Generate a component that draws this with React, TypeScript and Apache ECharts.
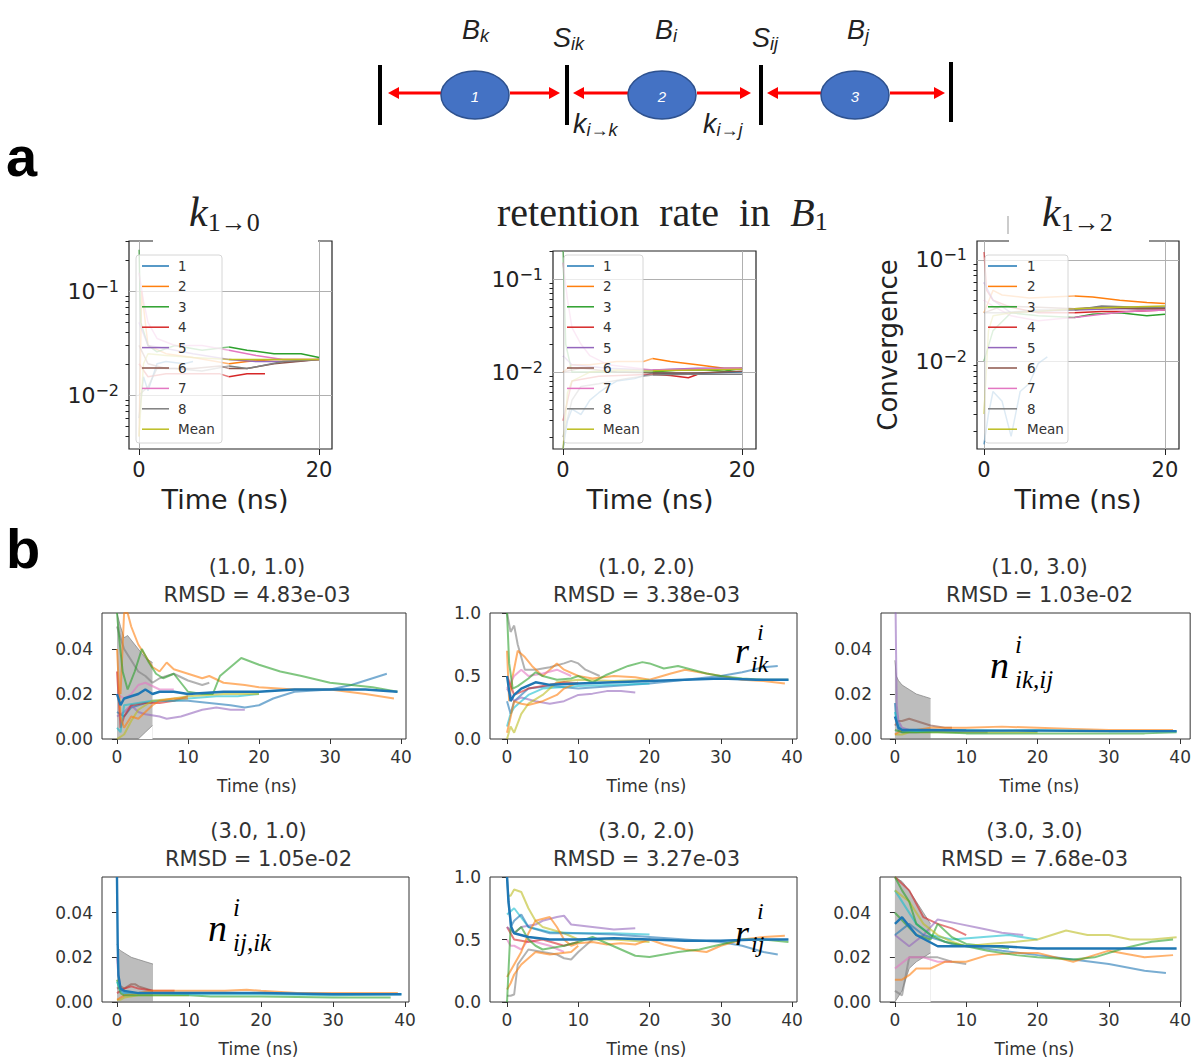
import React, { useEffect, useRef } from "react";
import * as echarts from "echarts";

// ---------------- colours (matplotlib tab10) ----------------
const C = {
  blue: "#1f77b4", orange: "#ff7f0e", green: "#2ca02c", red: "#d62728", purple: "#9467bd",
  brown: "#8c564b", pink: "#e377c2", gray: "#7f7f7f", olive: "#bcbd22", cyan: "#17becf",
};

// ---------------- panel a data ----------------
const A_NAMES = ["1", "2", "3", "4", "5", "6", "7", "8", "Mean"];
const A_COLORS = [C.blue, C.orange, C.green, C.red, C.purple, C.brown, C.pink, C.gray, C.olive];
const A_X_TICKS = [0, 20];
const A_Y_TICKS = [0.01, 0.1];
const A_SPLIT = 10; // runs are drawn faded before 10 ns

// k 1->0
const a1_s1 = [[0, 0.006], [0.5, 0.015], [1, 0.011], [2, 0.02], [3, 0.021], [5, 0.02], [6, 0.021]];
const a1_s2 = [[0, 0.004], [0.3, 0.1], [1, 0.03], [3, 0.025], [6, 0.023], [10, 0.02], [12, 0.021], [15, 0.022], [18, 0.022], [20, 0.022]];
const a1_s3 = [[0, 0.25], [0.2, 0.05], [1, 0.03], [2, 0.026], [4, 0.03], [7, 0.027], [10, 0.029], [12, 0.027], [15, 0.025], [18, 0.025], [20, 0.023]];
const a1_s4 = [[0, 0.02], [1, 0.015], [3, 0.016], [6, 0.016], [9, 0.016], [10, 0.015], [12, 0.016], [14, 0.016]];
const a1_s5 = [[0, 0.05], [1, 0.03], [3, 0.028], [6, 0.025], [10, 0.022], [13, 0.021], [17, 0.021], [20, 0.022]];
const a1_s6 = [[0, 0.03], [1, 0.02], [3, 0.018], [6, 0.018], [9, 0.019], [10, 0.018], [12, 0.018], [15, 0.02], [20, 0.022]];
const a1_s7 = [[0, 0.15], [0.5, 0.08], [1, 0.05], [2, 0.035], [4, 0.03], [7, 0.03], [10, 0.027], [13, 0.024], [16, 0.022], [20, 0.022]];
const a1_s8 = [[0, 0.01], [1, 0.012], [2, 0.018], [4, 0.018], [7, 0.017], [10, 0.019], [12, 0.018], [16, 0.021], [20, 0.022]];
const a1_mean = [[0, 0.004], [0.5, 0.02], [1, 0.025], [3, 0.024], [6, 0.023], [10, 0.022], [15, 0.022], [20, 0.022]];

// retention rate in B1
const a2_s1 = [[0, 0.0015], [0.5, 0.003], [1, 0.004], [2, 0.0035], [3, 0.005], [4, 0.006], [5, 0.007], [6, 0.008], [8, 0.0085], [10, 0.0098], [14, 0.0096], [20, 0.0101]];
const a2_s2 = [[0, 0.01], [1, 0.012], [3, 0.012], [6, 0.013], [9, 0.013], [10, 0.014], [12, 0.013], [15, 0.012], [18, 0.011], [20, 0.011]];
const a2_s3 = [[0, 0.2], [0.3, 0.02], [1, 0.01], [4, 0.01], [10, 0.01], [13, 0.0105], [16, 0.0105], [18, 0.0102], [20, 0.011]];
const a2_s4 = [[0, 0.003], [1, 0.008], [4, 0.009], [10, 0.0095], [12, 0.0092], [14, 0.0087], [15, 0.0094]];
const a2_s5 = [[0, 0.015], [1, 0.012], [5, 0.011], [10, 0.0105], [15, 0.011], [20, 0.011]];
const a2_s6 = [[0, 0.01], [2, 0.011], [6, 0.01], [10, 0.0098], [15, 0.0098], [20, 0.0102]];
const a2_s7 = [[0, 0.15], [0.5, 0.06], [1, 0.03], [2, 0.02], [3, 0.015], [5, 0.012], [10, 0.0105], [15, 0.0108], [20, 0.011]];
const a2_s8 = [[0, 0.002], [1, 0.005], [2, 0.007], [4, 0.0075], [7, 0.0085], [10, 0.0093], [14, 0.0095], [20, 0.0095]];
const a2_mean = [[0, 0.0015], [0.5, 0.006], [1, 0.008], [3, 0.01], [6, 0.0105], [10, 0.0103], [15, 0.0105], [20, 0.0107]];

// k 1->2
const a3_s1 = [[0, 0.0015], [0.5, 0.003], [1, 0.005], [2, 0.004], [3, 0.0018], [4, 0.005], [5, 0.006], [6, 0.0095], [7, 0.011]];
const a3_s2 = [[0, 0.03], [1, 0.05], [2, 0.045], [5, 0.042], [10, 0.044], [12, 0.043], [15, 0.04], [18, 0.038], [20, 0.037]];
const a3_s3 = [[0, 0.01], [1, 0.02], [3, 0.03], [6, 0.028], [10, 0.027], [12, 0.029], [15, 0.03], [18, 0.028], [20, 0.029]];
const a3_s4 = [[0, 0.12], [0.3, 0.05], [1, 0.04], [3, 0.034], [6, 0.03], [10, 0.03], [13, 0.031], [16, 0.031], [20, 0.032]];
const a3_s5 = [[0, 0.06], [1, 0.04], [3, 0.03], [6, 0.031], [10, 0.032], [15, 0.033], [20, 0.033]];
const a3_s6 = [[0, 0.03], [2, 0.035], [6, 0.034], [10, 0.033], [13, 0.034], [17, 0.033], [20, 0.033]];
const a3_s7 = [[0, 0.04], [1, 0.035], [3, 0.028], [6, 0.025], [8, 0.026], [10, 0.027], [13, 0.029], [16, 0.031], [20, 0.032]];
const a3_s8 = [[0, 0.03], [2, 0.03], [6, 0.032], [10, 0.032], [13, 0.035], [17, 0.034], [20, 0.034]];
const a3_mean = [[0, 0.003], [0.5, 0.02], [1, 0.028], [3, 0.03], [6, 0.031], [10, 0.033], [15, 0.034], [20, 0.035]];

const A1 = [a1_s1, a1_s2, a1_s3, a1_s4, a1_s5, a1_s6, a1_s7, a1_s8, a1_mean];
const A2 = [a2_s1, a2_s2, a2_s3, a2_s4, a2_s5, a2_s6, a2_s7, a2_s8, a2_mean];
const A3 = [a3_s1, a3_s2, a3_s3, a3_s4, a3_s5, a3_s6, a3_s7, a3_s8, a3_mean];

// ---------------- panel b data ----------------
const B_X_TICKS = [0, 10, 20, 30, 40];
const B_Y_TICKS_N = [0, 0.02, 0.04];
const B_Y_TICKS_R = [0, 0.5, 1.0];

// (1.0, 1.0)
const b11_green = [[0, 0.056], [0.3, 0.045], [0.8, 0.03], [1.5, 0.022], [2.5, 0.03], [3.5, 0.04], [4.5, 0.034], [5.5, 0.029], [6.5, 0.027], [8, 0.029], [10, 0.021], [12, 0.02], [13.5, 0.02], [14.5, 0.028], [16, 0.032], [17.5, 0.036], [20, 0.033], [23, 0.03], [26, 0.028], [30, 0.025], [33, 0.024], [36, 0.023], [39.5, 0.021]];
const b11_orange = [[0.5, 0.02], [1, 0.056], [1.5, 0.056], [2, 0.05], [3, 0.042], [4, 0.037], [5, 0.032], [6, 0.03], [7, 0.034], [8, 0.031], [10, 0.029], [12, 0.027], [13, 0.028], [15, 0.025], [18, 0.024], [20, 0.023], [25, 0.022], [30, 0.022], [35, 0.02], [39, 0.018]];
const b11_gray = [[0, 0.05], [1, 0.04], [2, 0.035], [3, 0.03], [4, 0.028], [5, 0.025], [6, 0.027], [8, 0.029], [10, 0.026], [12, 0.024], [13, 0.025]];
const b11_lblue = [[0, 0.012], [1, 0.01], [2, 0.014], [4, 0.016], [6, 0.017], [10, 0.017], [13, 0.016], [16, 0.015], [18, 0.014], [20, 0.015], [22, 0.018], [25, 0.021], [30, 0.022], [33, 0.024], [36, 0.027], [38, 0.029]];
const b11_purple = [[0, 0.01], [1, 0.012], [2, 0.015], [3, 0.012], [4, 0.011], [6, 0.01], [7, 0.009], [9, 0.01], [10, 0.011], [12, 0.013], [14, 0.014], [16, 0.013], [18, 0.013]];
const b11_red = [[0, 0.03], [0.5, 0.005], [1, 0.01], [2, 0.015], [4, 0.016], [6, 0.016], [8, 0.017], [10, 0.019]];
const b11_cyan = [[0, 0.005], [0.5, 0.003], [1, 0.015], [3, 0.016], [5, 0.017], [8, 0.017], [10, 0.018], [14, 0.019], [17, 0.019], [20, 0.02]];
const b11_olive = [[0, 0.0], [1, 0.002], [2, 0.008], [3, 0.013], [5, 0.017], [8, 0.018], [10, 0.019], [15, 0.02], [20, 0.02]];
const b11_pink = [[0, 0.02], [1, 0.018], [2, 0.02], [3, 0.024], [4, 0.025], [6, 0.022], [8, 0.022]];
const b11_orange2 = [[0, 0.04], [0.5, 0.01], [1, 0.005], [2, 0.01], [3, 0.009], [4, 0.012], [5, 0.015], [6, 0.017], [8, 0.018], [10, 0.018]];
const b11_main = [[0, 0.02], [0.5, 0.015], [1, 0.018], [2, 0.019], [3, 0.02], [4, 0.022], [5, 0.02], [6, 0.021], [8, 0.021], [10, 0.02], [15, 0.021], [20, 0.021], [25, 0.022], [30, 0.022], [35, 0.022], [39.5, 0.021]];
const b11_band_x = [0, 0.5, 1, 1.5, 2, 3, 4, 5];
const b11_band_lo = [0, 0, 0, 0, 0, 0, 0.003, 0.006];
const b11_band_hi = [0.056, 0.05, 0.045, 0.046, 0.044, 0.04, 0.036, 0.034];

// (1.0, 2.0)
const b12_green = [[0, 1], [0.3, 0.6], [0.8, 0.4], [1.5, 0.42], [3, 0.48], [4, 0.53], [5, 0.5], [7, 0.47], [9, 0.48], [10, 0.5], [12, 0.45], [14, 0.51], [17, 0.58], [19, 0.61], [20, 0.6], [22, 0.56], [24, 0.58], [26, 0.55], [28, 0.52], [30, 0.5], [33, 0.48], [36, 0.47], [39.5, 0.47]];
const b12_orange = [[0, 0.7], [0.3, 0.3], [0.8, 0.5], [1.5, 0.7], [2.5, 0.65], [3.5, 0.58], [5, 0.5], [6, 0.55], [7, 0.6], [8, 0.55], [10, 0.5], [12, 0.48], [15, 0.5], [18, 0.49], [20, 0.47], [23, 0.52], [25, 0.55], [28, 0.52], [30, 0.5], [33, 0.47], [36, 0.46], [39, 0.44]];
const b12_gray = [[0, 1], [0.5, 0.85], [1, 0.9], [1.5, 0.75], [2.5, 0.55], [4, 0.55], [6, 0.57], [8, 0.6], [9, 0.62], [10, 0.6], [11, 0.55], [13, 0.5]];
const b12_lblue = [[0, 0.3], [0.5, 0.2], [1, 0.3], [3, 0.4], [6, 0.42], [10, 0.4], [15, 0.42], [20, 0.44], [25, 0.47], [30, 0.5], [33, 0.53], [36, 0.57], [38, 0.58]];
const b12_purple = [[0, 0.4], [1, 0.3], [2, 0.33], [4, 0.3], [6, 0.28], [8, 0.3], [10, 0.35], [12, 0.36], [14, 0.38], [16, 0.38], [18, 0.37]];
const b12_cyan = [[0, 0.1], [0.5, 0.2], [1, 0.25], [3, 0.35], [5, 0.4], [10, 0.42], [15, 0.43], [20, 0.44]];
const b12_olive = [[0, 0], [0.5, 0.1], [1, 0.05], [2, 0.2], [3, 0.28], [5, 0.35], [7, 0.45], [10, 0.47], [15, 0.46], [20, 0.47]];
const b12_pink = [[0, 0.4], [1, 0.5], [2, 0.55], [3, 0.5], [5, 0.52], [7, 0.55], [9, 0.5]];
const b12_red = [[0, 0.5], [1, 0.35], [3, 0.4], [5, 0.42], [8, 0.45], [10, 0.44]];
const b12_orange2 = [[0, 0.05], [1, 0.3], [2, 0.28], [3, 0.27], [5, 0.3], [7, 0.35], [8, 0.4], [10, 0.45]];
const b12_main = [[0, 0.5], [0.5, 0.3], [1, 0.35], [2, 0.4], [4, 0.45], [6, 0.43], [10, 0.44], [15, 0.45], [20, 0.46], [25, 0.47], [30, 0.48], [35, 0.47], [39.5, 0.47]];

// (1.0, 3.0)
const b13_purple = [[0, 0.056], [0.1, 0.056], [0.25, 0.015], [0.5, 0.008], [1, 0.005], [2, 0.004], [4, 0.004], [6, 0.004], [8, 0.004]];
const b13_orange = [[0, 0.002], [0.5, 0.003], [1, 0.004], [3, 0.004], [5, 0.005], [10, 0.005], [15, 0.0055], [20, 0.005], [25, 0.0045], [30, 0.004], [35, 0.004], [39, 0.004]];
const b13_lgreen = [[0, 0.004], [1, 0.003], [3, 0.003], [6, 0.003], [10, 0.0025], [15, 0.0025], [20, 0.0025], [25, 0.0025], [30, 0.0025], [35, 0.0025], [39.5, 0.003]];
const b13_green = [[0, 0.012], [0.3, 0.008], [0.7, 0.005], [1, 0.004], [3, 0.0035], [6, 0.004], [10, 0.004], [15, 0.0038], [20, 0.004], [30, 0.0035], [39.5, 0.0035]];
const b13_brown = [[0, 0.006], [0.5, 0.008], [1, 0.008], [2, 0.009], [3, 0.008], [4, 0.007], [5, 0.006], [7, 0.005], [8, 0.005]];
const b13_blue = [[0, 0.016], [0.2, 0.008], [0.5, 0.004], [1, 0.003], [3, 0.003], [6, 0.0035], [10, 0.003], [13, 0.003]];
const b13_olive = [[0, 0.002], [1, 0.002], [2, 0.003], [5, 0.003], [10, 0.003], [20, 0.003]];
const b13_main = [[0, 0.01], [0.5, 0.005], [1, 0.004], [5, 0.004], [10, 0.0038], [20, 0.0037], [30, 0.0035], [39.5, 0.0035]];
const b13_band_x = [0, 0.2, 0.5, 1, 2, 3, 4, 5];
const b13_band_lo = [0, 0, 0, 0, 0, 0, 0, 0];
const b13_band_hi = [0.035, 0.028, 0.026, 0.024, 0.022, 0.02, 0.019, 0.018];

// (3.0, 1.0)
const b21_purple = [[0, 0.02], [0.2, 0.012], [0.5, 0.006], [1, 0.004], [3, 0.004], [5, 0.004]];
const b21_orange = [[0, 0.001], [0.5, 0.002], [1, 0.003], [3, 0.004], [5, 0.005], [10, 0.005], [15, 0.005], [18, 0.0055], [20, 0.005], [25, 0.004], [30, 0.004], [39, 0.004]];
const b21_lgreen = [[0, 0.01], [0.5, 0.004], [1, 0.003], [5, 0.003], [10, 0.003], [13, 0.0025], [20, 0.0025], [30, 0.002], [38, 0.002]];
const b21_green = [[0, 0.009], [0.5, 0.005], [1, 0.004], [5, 0.004], [10, 0.0035], [20, 0.0035], [30, 0.003], [39.5, 0.0035]];
const b21_brown = [[0, 0.006], [0.5, 0.007], [1, 0.006], [2, 0.008], [2.5, 0.008], [3, 0.007], [4, 0.006], [5, 0.005]];
const b21_red = [[0, 0.004], [1, 0.006], [2, 0.007], [3, 0.006], [5, 0.005], [8, 0.005]];
const b21_olive = [[0, 0.001], [0.5, 0.001], [1, 0.002], [3, 0.003], [6, 0.003], [10, 0.003]];
const b21_main = [[0, 0.056], [0.05, 0.056], [0.1, 0.026], [0.2, 0.012], [0.5, 0.006], [1, 0.005], [3, 0.004], [6, 0.004], [10, 0.004], [20, 0.004], [30, 0.0035], [39.5, 0.0035]];
const b21_band_x = [0, 0.2, 0.5, 1, 2, 3, 4, 5];
const b21_band_lo = [0, 0, 0, 0, 0, 0, 0, 0];
const b21_band_hi = [0.026, 0.024, 0.023, 0.022, 0.02, 0.019, 0.018, 0.017];

// (3.0, 2.0)
const b22_green = [[0, 0], [0.5, 0.6], [1, 0.55], [2, 0.6], [3, 0.5], [4, 0.45], [5, 0.42], [6, 0.43], [8, 0.45], [10, 0.48], [12, 0.52], [14, 0.47], [16, 0.42], [18, 0.37], [20, 0.36], [22, 0.38], [24, 0.4], [27, 0.42], [30, 0.46], [33, 0.5], [36, 0.5], [39.5, 0.48]];
const b22_orange = [[0, 0.2], [0.5, 0.25], [1, 0.3], [2, 0.4], [3, 0.55], [4, 0.65], [6, 0.68], [7, 0.6], [8, 0.5], [9, 0.45], [10, 0.47], [12, 0.48], [14, 0.46], [16, 0.47], [18, 0.46], [20, 0.5], [22, 0.46], [25, 0.42], [28, 0.4], [30, 0.45], [33, 0.5], [36, 0.52], [39, 0.53]];
const b22_lblue = [[0, 1], [0.5, 0.6], [1, 0.65], [2, 0.7], [3, 0.6], [6, 0.55], [10, 0.55], [15, 0.54], [20, 0.52], [25, 0.5], [30, 0.48], [33, 0.45], [36, 0.4], [38, 0.38]];
const b22_olive = [[0, 0.85], [0.5, 0.85], [1, 0.9], [2, 0.88], [3, 0.75], [4, 0.65], [5, 0.6], [8, 0.55], [10, 0.5], [15, 0.5], [20, 0.48]];
const b22_purple = [[0, 0.6], [1, 0.55], [2, 0.6], [4, 0.62], [5, 0.65], [7, 0.68], [8, 0.69], [9, 0.62], [12, 0.6], [15, 0.58], [18, 0.59]];
const b22_gray = [[0, 0.05], [0.5, 0.05], [1, 0.06], [1.5, 0.3], [3, 0.42], [5, 0.4], [7, 0.38], [8, 0.35], [9, 0.34], [10, 0.4], [12, 0.5]];
const b22_pink = [[0, 0.5], [0.5, 0.45], [1, 0.45], [2, 0.42], [3, 0.5], [4, 0.48], [6, 0.45], [8, 0.4]];
const b22_cyan = [[0, 0.7], [1, 0.75], [3, 0.6], [6, 0.56], [10, 0.55], [15, 0.55], [20, 0.54]];
const b22_red = [[0, 0.6], [1, 0.5], [3, 0.48], [5, 0.5], [8, 0.45], [10, 0.48]];
const b22_orange2 = [[0, 0.1], [0.5, 0.15], [1, 0.22], [2, 0.3], [4, 0.4], [6, 0.38], [9, 0.4], [10, 0.45]];
const b22_main = [[0, 1], [0.2, 0.8], [0.6, 0.6], [1, 0.55], [3, 0.52], [6, 0.5], [10, 0.5], [15, 0.51], [20, 0.5], [25, 0.49], [30, 0.49], [35, 0.5], [39.5, 0.5]];

// (3.0, 3.0)
const b23_olive = [[0, 0.05], [2, 0.045], [4, 0.035], [6, 0.03], [8, 0.027], [10, 0.025], [13, 0.026], [17, 0.027], [20, 0.028], [24, 0.032], [27, 0.03], [30, 0.03], [33, 0.028], [36, 0.028], [39.5, 0.029]];
const b23_green = [[0, 0.056], [1, 0.05], [2, 0.045], [3, 0.035], [5, 0.03], [7, 0.027], [10, 0.025], [13, 0.023], [17, 0.021], [20, 0.02], [25, 0.019], [28, 0.02], [32, 0.024], [36, 0.027], [39, 0.028]];
const b23_green2 = [[0, 0.04], [3, 0.03], [5, 0.028], [6, 0.035], [8, 0.029], [10, 0.026], [13, 0.025], [16, 0.024]];
const b23_lblue = [[0, 0.03], [2, 0.035], [4, 0.03], [8, 0.026], [15, 0.023], [20, 0.021], [25, 0.019], [30, 0.017], [35, 0.014], [38, 0.013]];
const b23_orange = [[0, 0.01], [1, 0.01], [2, 0.012], [3, 0.015], [5, 0.015], [7, 0.018], [10, 0.018], [13, 0.021], [17, 0.022], [20, 0.022], [25, 0.018], [30, 0.023], [35, 0.02], [39, 0.021]];
const b23_purple = [[0, 0.03], [2, 0.025], [4, 0.03], [6, 0.037], [9, 0.035], [12, 0.033], [15, 0.031], [18, 0.03]];
const b23_red = [[0, 0.056], [2, 0.05], [4, 0.038], [6, 0.035], [8, 0.033], [10, 0.03]];
const b23_cyan = [[0, 0.05], [3, 0.035], [5, 0.03], [8, 0.028], [12, 0.029], [16, 0.03], [20, 0.028]];
const b23_gray = [[0, 0.005], [1, 0.003], [2, 0.02], [4, 0.02], [6, 0.02], [8, 0.018], [10, 0.017]];
const b23_pink = [[0, 0.015], [2, 0.02], [4, 0.02], [6, 0.018], [8, 0.018]];
const b23_main = [[0, 0.035], [1, 0.038], [3, 0.03], [6, 0.025], [10, 0.025], [15, 0.025], [20, 0.024], [30, 0.024], [39.5, 0.024]];
const b23_band_x = [0, 1, 2, 3, 4, 5];
const b23_band_lo = [0, 0.005, 0.015, 0.018, 0.02, 0.022];
const b23_band_hi = [0.056, 0.054, 0.05, 0.045, 0.04, 0.035];

// ---------------- layout ----------------
const SERIF = "'Liberation Serif', 'DejaVu Serif', serif";
const SANS = "'DejaVu Sans', sans-serif";
const DIAG = "'Liberation Sans', 'DejaVu Sans', sans-serif";

const A_PLOTS = [
  { data: A1, grid: { left: 129, top: 241, width: 203, height: 208 }, x: [-1.11, 21.44], y: [0.00303, 0.303] },
  { data: A2, grid: { left: 553, top: 251, width: 203, height: 198 }, x: [-1.12, 21.56], y: [0.00149, 0.2] },
  { data: A3, grid: { left: 977, top: 241, width: 202, height: 208 }, x: [-0.77, 21.55], y: [0.00135, 0.154] },
];

const B_PLOTS = [
  {
    title: ["(1.0, 1.0)", "RMSD = 4.83e-03"], grid: { left: 102, top: 613, width: 304, height: 126 }, x: [-2.11, 40.7], yMax: 0.056, yTicks: B_Y_TICKS_N, dec: 2,
    lines: [b11_gray, b11_orange, b11_lblue, b11_purple, b11_red, b11_cyan, b11_olive, b11_pink, b11_orange2, b11_green],
    colors: [C.gray, C.orange, C.blue, C.purple, C.red, C.cyan, C.olive, C.pink, C.orange, C.green],
    main: b11_main, band: [b11_band_x, b11_band_lo, b11_band_hi],
  },
  {
    title: ["(1.0, 2.0)", "RMSD = 3.38e-03"], grid: { left: 490, top: 613, width: 307, height: 126 }, x: [-2.39, 40.7], yMax: 1.0, yTicks: B_Y_TICKS_R, dec: 1,
    lines: [b12_gray, b12_orange, b12_lblue, b12_purple, b12_cyan, b12_olive, b12_pink, b12_red, b12_orange2, b12_green],
    colors: [C.gray, C.orange, C.blue, C.purple, C.cyan, C.olive, C.pink, C.red, C.orange, C.green],
    main: b12_main, band: null,
  },
  {
    title: ["(1.0, 3.0)", "RMSD = 1.03e-02"], grid: { left: 881, top: 613, width: 311, height: 126 }, x: [-1.95, 41.4], yMax: 0.056, yTicks: B_Y_TICKS_N, dec: 2,
    lines: [b13_brown, b13_blue, b13_olive, b13_orange, b13_lgreen, b13_green, b13_purple],
    colors: [C.brown, C.blue, C.olive, C.orange, C.green, C.cyan, C.purple],
    main: b13_main, band: [b13_band_x, b13_band_lo, b13_band_hi],
  },
  {
    title: ["(3.0, 1.0)", "RMSD = 1.05e-02"], grid: { left: 102, top: 877, width: 307, height: 125 }, x: [-2.08, 40.55], yMax: 0.056, yTicks: B_Y_TICKS_N, dec: 2,
    lines: [b21_purple, b21_brown, b21_red, b21_olive, b21_orange, b21_lgreen, b21_green],
    colors: [C.purple, C.brown, C.red, C.olive, C.orange, C.green, C.cyan],
    main: b21_main, band: [b21_band_x, b21_band_lo, b21_band_hi],
  },
  {
    title: ["(3.0, 2.0)", "RMSD = 3.27e-03"], grid: { left: 490, top: 877, width: 307, height: 125 }, x: [-2.39, 40.7], yMax: 1.0, yTicks: B_Y_TICKS_R, dec: 1,
    lines: [b22_gray, b22_pink, b22_red, b22_cyan, b22_purple, b22_olive, b22_orange2, b22_lblue, b22_orange, b22_green],
    colors: [C.gray, C.pink, C.red, C.cyan, C.purple, C.olive, C.orange, C.blue, C.orange, C.green],
    main: b22_main, band: null,
  },
  {
    title: ["(3.0, 3.0)", "RMSD = 7.68e-03"], grid: { left: 880, top: 877, width: 303, height: 125 }, x: [-2.09, 40.1], yMax: 0.056, yTicks: B_Y_TICKS_N, dec: 2,
    lines: [b23_gray, b23_pink, b23_red, b23_purple, b23_cyan, b23_green2, b23_lblue, b23_orange, b23_olive, b23_green],
    colors: [C.gray, C.pink, C.red, C.purple, C.cyan, C.green, C.blue, C.orange, C.olive, C.green],
    main: b23_main, band: [b23_band_x, b23_band_lo, b23_band_hi],
  },
];

function txt(x: number, y: number, text: string, o: any = {}) {
  const align = o.align || "center";
  const va = o.va || "middle";
  return {
    type: "text", x, y, z: 60, silent: true, rotation: o.rotation || 0,
    style: {
      text, fill: o.fill || "#222", fontSize: o.size || 16, fontFamily: o.family || SANS,
      fontStyle: o.italic ? "italic" : "normal", fontWeight: o.bold ? "bold" : "normal",
      align, verticalAlign: va, textAlign: align, textVerticalAlign: va, rich: o.rich,
    },
  };
}

function buildOption() {
  const grids: any[] = [];
  const xAxes: any[] = [];
  const yAxes: any[] = [];
  const series: any[] = [];
  const graphics: any[] = [];

  // ---------- panel a ----------
  const minorVals: number[] = [];
  [0.001, 0.01, 0.1].forEach((d) => [2, 3, 4, 5, 6, 7, 8, 9].forEach((m) => minorVals.push(+(d * m).toPrecision(3))));

  A_PLOTS.forEach((p, i) => {
    grids.push({ ...p.grid, show: true, borderColor: "#222", borderWidth: 1.2, backgroundColor: "transparent" });
    xAxes.push({
      type: "value", gridIndex: i, min: p.x[0], max: p.x[1],
      axisLine: { show: false }, splitLine: { show: false },
      axisTick: { customValues: A_X_TICKS, length: 6, lineStyle: { color: "#222" } },
      axisLabel: { customValues: A_X_TICKS, fontSize: 21, color: "#222", fontFamily: SANS, margin: 10 },
    });
    yAxes.push({
      type: "log", logBase: 10, gridIndex: i, min: p.y[0], max: p.y[1], position: "left",
      axisLine: { show: false }, splitLine: { show: false },
      axisTick: { customValues: A_Y_TICKS, length: 6, lineStyle: { color: "#222" } },
      axisLabel: {
        customValues: A_Y_TICKS, margin: 10,
        formatter: (v: number) => "{b|10}{p|−" + Math.round(-Math.log10(v)) + "}",
        rich: {
          b: { fontSize: 22, fontFamily: SANS, color: "#222", lineHeight: 26 },
          p: { fontSize: 16, fontFamily: SANS, color: "#222", lineHeight: 10, verticalAlign: "top" },
        },
      },
    });
    yAxes.push({
      type: "log", logBase: 10, gridIndex: i, min: p.y[0], max: p.y[1], position: "left", offset: 0,
      axisLine: { show: false }, splitLine: { show: false }, axisLabel: { show: false },
      axisTick: { customValues: minorVals, length: 3.5, lineStyle: { color: "#222" } },
    });
    const yIdx = i * 2;
    p.data.forEach((d: number[][], k: number) => {
      const early = d.filter((pt) => pt[0] <= A_SPLIT);
      const late = d.filter((pt) => pt[0] >= A_SPLIT);
      const s: any = {
        type: "line", name: "early-" + i + "-" + k, xAxisIndex: i, yAxisIndex: yIdx, data: early,
        symbol: "none", silent: true, z: 3, lineStyle: { color: A_COLORS[k], width: 1.5, opacity: 0.6 },
      };
      if (k === 0) {
        s.markLine = {
          silent: true, symbol: ["none", "none"], z: 1, label: { show: false },
          lineStyle: { color: "#b0b0b0", width: 1, type: "solid" },
          data: [...A_X_TICKS.map((v) => ({ xAxis: v })), ...A_Y_TICKS.map((v) => ({ yAxis: v }))],
        };
      }
      series.push(s);
      if (late.length > 1) {
        series.push({
          type: "line", name: A_NAMES[k], xAxisIndex: i, yAxisIndex: yIdx, data: late,
          symbol: "none", silent: true, z: 4, lineStyle: { color: A_COLORS[k], width: 1.5, opacity: 1 },
        });
      }
    });
  });

  // ---------- panel b ----------
  B_PLOTS.forEach((p, j) => {
    const gi = 3 + j;
    grids.push({ ...p.grid, show: true, borderColor: "#333", borderWidth: 1, backgroundColor: "transparent" });
    xAxes.push({
      type: "value", gridIndex: gi, min: p.x[0], max: p.x[1],
      axisLine: { show: false }, splitLine: { show: false },
      axisTick: { customValues: B_X_TICKS, length: 5, lineStyle: { color: "#333" } },
      axisLabel: { customValues: B_X_TICKS, fontSize: 17, color: "#333", fontFamily: SANS, margin: 9 },
    });
    yAxes.push({
      type: "value", gridIndex: gi, min: 0, max: p.yMax,
      axisLine: { show: false }, splitLine: { show: false },
      axisTick: { customValues: p.yTicks, length: 5, lineStyle: { color: "#333" } },
      axisLabel: {
        customValues: p.yTicks, fontSize: 17, color: "#333", fontFamily: SANS, margin: 9,
        formatter: (v: number) => v.toFixed(p.dec),
      },
    });
    const xi = gi, yi = 6 + j;
    if (p.band) {
      const [bx, lo, hi] = p.band;
      // upper edge filled down to zero, then lower edge masks the part below it
      series.push({
        type: "line", xAxisIndex: xi, yAxisIndex: yi, symbol: "none", silent: true, z: 1,
        data: bx.map((x: number, n: number) => [x, hi[n]]),
        lineStyle: { color: "#808080", width: 1, opacity: 0.7 }, areaStyle: { color: "#9a9a9a", opacity: 0.65 },
      });
      series.push({
        type: "line", xAxisIndex: xi, yAxisIndex: yi, symbol: "none", silent: true, z: 1,
        data: bx.map((x: number, n: number) => [x, lo[n]]),
        lineStyle: { color: "#808080", width: 1, opacity: 0.7 }, areaStyle: { color: "#ffffff", opacity: 1 },
      });
    }
    p.lines.forEach((d: number[][], k: number) => {
      series.push({
        type: "line", xAxisIndex: xi, yAxisIndex: yi, data: d, symbol: "none", silent: true, z: 3,
        lineStyle: { color: p.colors[k], width: 2, opacity: 0.6 },
      });
    });
    series.push({
      type: "line", xAxisIndex: xi, yAxisIndex: yi, data: p.main, symbol: "none", silent: true, z: 4,
      lineStyle: { color: "#1f77b4", width: 2.4, opacity: 1 },
    });
    const cx = p.grid.left + p.grid.width / 2 + 3;
    graphics.push(txt(cx, p.grid.top - 46, p.title[0], { size: 21, fill: "#333" }));
    graphics.push(txt(cx, p.grid.top - 18, p.title[1], { size: 21, fill: "#333" }));
    graphics.push(txt(cx, p.grid.top + p.grid.height + 47, "Time (ns)", { size: 17, fill: "#333" }));
  });

  // ---------- panel a texts ----------
  const subRich = (base: number, sub: number, italicBase: boolean) => ({
    k: { fontSize: base, fontFamily: SERIF, fontStyle: italicBase ? "italic" : "normal", lineHeight: base + 4, color: "#111" },
    r: { fontSize: base, fontFamily: SERIF, lineHeight: base + 4, color: "#111" },
    s: { fontSize: sub, fontFamily: SERIF, lineHeight: 16, verticalAlign: "bottom", color: "#111" },
  });
  graphics.push(txt(189, 212, "{k|k}{s|1→0}", { align: "left", rich: subRich(42, 26, true) }));
  graphics.push(txt(497, 212, "{r|retention  rate  in  }{k|B}{s|1}", { align: "left", rich: subRich(40, 26, true) }));
  graphics.push(txt(1042, 212, "{k|k}{s|1→2}", { align: "left", rich: subRich(42, 26, true) }));
  // white masks over the top frame behind titles
  graphics.push({ type: "rect", z: 55, silent: true, shape: { x: 153, y: 238, width: 165, height: 6 }, style: { fill: "#fff" } });
  graphics.push({ type: "rect", z: 55, silent: true, shape: { x: 1009, y: 238, width: 140, height: 6 }, style: { fill: "#fff" } });
  graphics.push({ type: "line", z: 56, silent: true, shape: { x1: 1008, y1: 216, x2: 1008, y2: 234 }, style: { stroke: "#999", lineWidth: 1 } });

  [225, 650, 1078].forEach((cx) => graphics.push(txt(cx, 499, "Time (ns)", { size: 27 })));
  graphics.push(txt(888, 345, "Convergence", { size: 26, rotation: Math.PI / 2 }));

  // legends
  const legendBoxes = [
    { x: 136, w: 86, l0: 142, l1: 169, tx: 178 },
    { x: 564, w: 79, l0: 567, l1: 594, tx: 603 },
    { x: 985, w: 83, l0: 988, l1: 1017, tx: 1027 },
  ];
  legendBoxes.forEach((b) => {
    graphics.push({
      type: "rect", z: 50, silent: true, shape: { x: b.x, y: 255, width: b.w, height: 188, r: 3 },
      style: { fill: "rgba(255,255,255,0.75)", stroke: "#d6d6d6", lineWidth: 1 },
    });
    A_NAMES.forEach((n, k) => {
      const y = 266 + k * 20.4;
      graphics.push({ type: "line", z: 51, silent: true, shape: { x1: b.l0, y1: y, x2: b.l1, y2: y }, style: { stroke: A_COLORS[k], lineWidth: 1.5 } });
      graphics.push(txt(b.tx, y, n, { size: 13.5, align: "left", fill: "#333" }));
    });
  });

  // panel labels
  graphics.push(txt(6, 156, "a", { size: 56, bold: true, align: "left", family: DIAG, fill: "#000" }));
  graphics.push(txt(6, 548, "b", { size: 56, bold: true, align: "left", family: DIAG, fill: "#000" }));

  // math annotations in panel b
  const mt = (x: number, y: number, s: string, size: number) =>
    txt(x, y, s, { size, italic: true, family: SERIF, align: "left", fill: "#000" });
  graphics.push(mt(735, 651, "r", 36), mt(757, 632, "i", 24), mt(751, 664, "ik", 24));
  graphics.push(mt(990, 665, "n", 38), mt(1015, 644, "i", 25), mt(1015, 679, "ik,ij", 25));
  graphics.push(mt(208, 928, "n", 38), mt(233, 907, "i", 25), mt(233, 942, "ij,ik", 25));
  graphics.push(mt(735, 933, "r", 36), mt(757, 911, "i", 24), mt(751, 944, "ij", 24));

  // ---------- top diagram ----------
  [[380, 65, 125], [567, 65, 125], [761, 65, 125], [951, 62, 122]].forEach(([x, y1, y2]) =>
    graphics.push({ type: "line", z: 40, silent: true, shape: { x1: x, y1, x2: x, y2 }, style: { stroke: "#000", lineWidth: 4 } })
  );
  const arrow = (x1: number, x2: number, y: number) => {
    const dir = x2 > x1 ? 1 : -1;
    graphics.push({ type: "line", z: 40, silent: true, shape: { x1, y1: y, x2: x2 - dir * 9, y2: y }, style: { stroke: "#ff0000", lineWidth: 3 } });
    graphics.push({
      type: "polygon", z: 40, silent: true,
      shape: { points: [[x2, y], [x2 - dir * 11, y - 6], [x2 - dir * 11, y + 6]] }, style: { fill: "#ff0000" },
    });
  };
  arrow(441, 388, 93); arrow(510, 560, 93);
  arrow(628, 573, 93); arrow(697, 751, 93);
  arrow(822, 767, 93); arrow(890, 945, 93);
  [[475, "1"], [662, "2"], [855, "3"]].forEach(([cx, n]) => {
    graphics.push({
      type: "ellipse", z: 41, silent: true, shape: { cx: cx as number, cy: 95, rx: 34, ry: 24 },
      style: { fill: "#4472C4", stroke: "#2F528F", lineWidth: 1.5 },
    });
    graphics.push(txt(cx as number, 96, n as string, { size: 15, italic: true, fill: "#fff", family: DIAG }));
  });
  const dRich = {
    b: { fontSize: 27, fontFamily: DIAG, fontStyle: "italic", lineHeight: 30, color: "#111" },
    s: { fontSize: 18, fontFamily: DIAG, fontStyle: "italic", lineHeight: 12, verticalAlign: "bottom", color: "#111" },
  };
  graphics.push(txt(462, 30, "{b|B}{s|k}", { align: "left", rich: dRich }));
  graphics.push(txt(553, 38, "{b|S}{s|ik}", { align: "left", rich: dRich }));
  graphics.push(txt(655, 30, "{b|B}{s|i}", { align: "left", rich: dRich }));
  graphics.push(txt(752, 38, "{b|S}{s|ij}", { align: "left", rich: dRich }));
  graphics.push(txt(847, 30, "{b|B}{s|j}", { align: "left", rich: dRich }));
  graphics.push(txt(573, 124, "{b|k}{s|i→k}", { align: "left", rich: dRich }));
  graphics.push(txt(703, 124, "{b|k}{s|i→j}", { align: "left", rich: dRich }));

  return {
    animation: false,
    backgroundColor: "#fff",
    grid: grids,
    xAxis: xAxes,
    yAxis: yAxes,
    series,
    graphic: { elements: graphics },
  };
}

export default function App() {
  const ref = useRef<HTMLDivElement>(null);
  useEffect(() => {
    const chart = echarts.init(ref.current!, null, { renderer: "svg" });
    chart.setOption(buildOption() as any);
    return () => chart.dispose();
  }, []);
  return (
    <div
      ref={ref}
      style={{ position: "fixed", left: 0, top: 0, width: 1194, height: 1061, background: "#fff" }}
    />
  );
}
